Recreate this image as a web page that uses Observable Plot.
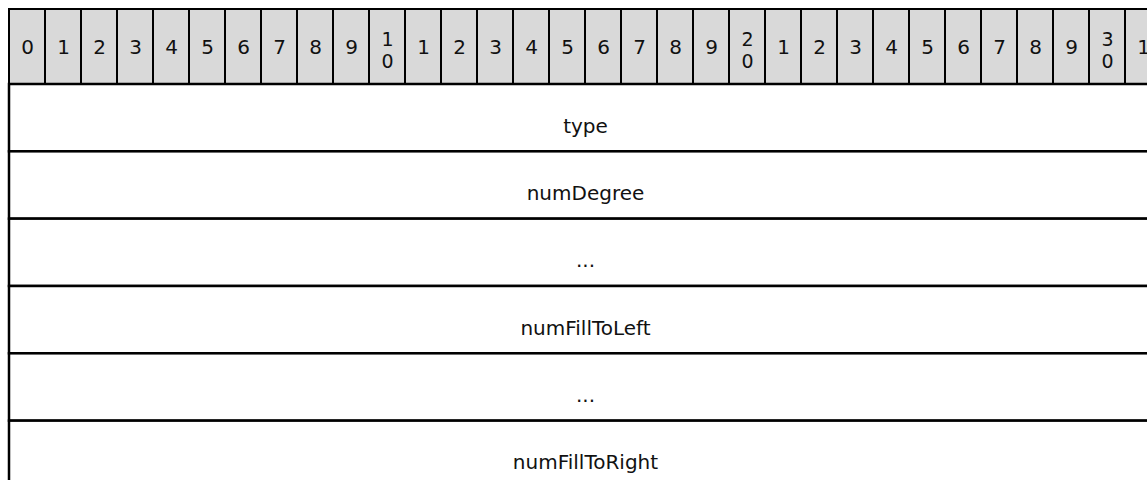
<!DOCTYPE html>
<html>
<head>
<meta charset="utf-8">
<script src="https://cdn.jsdelivr.net/npm/d3@7"></script>
<script src="https://cdn.jsdelivr.net/npm/@observablehq/plot@0.6"></script>
<style>
  html, body { margin: 0; padding: 0; background: #fff; overflow: hidden; }
  #chart svg { display: block; }
</style>
</head>
<body>
<div id="chart"></div>
<script>
// Bit positions shown in the header row
const bits = d3.range(32);
// Header tick labels (two-digit numbers are wrapped vertically)
const bitLabels = [
  "0","1","2","3","4","5","6","7","8","9",
  "1\n0","1","2","3","4","5","6","7","8","9",
  "2\n0","1","2","3","4","5","6","7","8","9",
  "3\n0","1"
];
// Fields of the structure, one per row
const fieldNames = ["type", "numDegree", "...", "numFillToLeft", "...", "numFillToRight"];
// Bit span of each field (start bit, end bit exclusive)
const fieldStart = [0, 0, 0, 0, 0, 0];
const fieldEnd = [32, 32, 32, 32, 32, 32];

// Layout
const rowH = 67.33;
const headerUnits = 75 / rowH;
const nRows = fieldNames.length;

const header = bits.map((b, i) => ({b, label: bitLabels[i], two: bitLabels[i].includes("\n")}));
const fields = fieldNames.map((name, i) => ({name, row: i, x1: fieldStart[i], x2: fieldEnd[i]}));

const font = "DejaVu Sans, Verdana, sans-serif";

const chart = Plot.plot({
  width: 1147,
  height: 480,
  margin: 0,
  style: {fontFamily: font, background: "#fff"},
  x: {type: "linear", domain: [0, 32], range: [9, 9 + 36 * 32], axis: null},
  y: {type: "linear", domain: [-headerUnits, nRows], range: [9, 84 + rowH * nRows], axis: null},
  marks: [
    Plot.rect(header, {x1: d => d.b, x2: d => d.b + 1, y1: -headerUnits, y2: 0, fill: "#d9d9d9", stroke: "#000", strokeWidth: 2}),
    Plot.rect(fields, {x1: "x1", x2: "x2", y1: d => d.row, y2: d => d.row + 1, fill: "#fff", stroke: "#000", strokeWidth: 2.5}),
    Plot.text(header.filter(d => !d.two), {x: d => d.b + 0.5, y: -headerUnits / 2, text: "label", fontSize: 20, fill: "#111", dy: 1}),
    Plot.text(header.filter(d => d.two), {x: d => d.b + 0.5, y: -headerUnits / 2, text: "label", fontSize: 19, lineHeight: 1.17, fill: "#111", dy: 3}),
    Plot.text(fields, {x: d => (d.x1 + d.x2) / 2, y: d => d.row + 0.5, text: "name", fontSize: 20, fill: "#111", dy: 8})
  ]
});
document.getElementById("chart").appendChild(chart);
</script>
</body>
</html>
